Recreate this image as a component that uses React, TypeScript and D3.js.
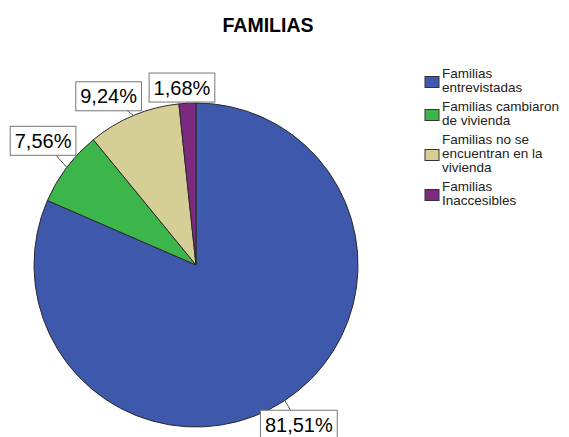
import React from "react";
import * as d3 from "d3";

const categories = [
  "Familias entrevistadas",
  "Familias cambiaron de vivienda",
  "Familias no se encuentran en la vivienda",
  "Familias Inaccesibles",
];
const legendLines = [
  ["Familias", "entrevistadas"],
  ["Familias cambiaron", "de vivienda"],
  ["Familias no se", "encuentran en la", "vivienda"],
  ["Familias", "Inaccesibles"],
];
const values = [81.51, 7.56, 9.24, 1.68];
const labels = ["81,51%", "7,56%", "9,24%", "1,68%"];
const colors = ["#3e58ab", "#3cb54b", "#d5cf96", "#7b2a7f"];

const W = 569;
const H = 437;
const cx = 196;
const cy = 265;
const R = 162;
const labelR = [190, 197, 190, 178];
const labelNudgeDeg = [0.5, 2, -4.7, -1.5];
const font = "'Liberation Sans', Arial, sans-serif";

function textWidth(s: string, size: number) {
  const c = document.createElement("canvas").getContext("2d")!;
  c.font = `${size}px ${font}`;
  return c.measureText(s).width;
}

export default function App() {
  const pie = d3.pie<number>().sort(null).value((d) => d);
  const arcs = pie(values);
  const arc = d3.arc<d3.PieArcDatum<number>>().innerRadius(0).outerRadius(R);

  const pt = (a: number, r: number) => [cx + r * Math.sin(a), cy - r * Math.cos(a)];

  let ly = 78;
  const legendItems = legendLines.map((lines, i) => {
    const top = ly;
    ly += lines.length * 14 + 5;
    return { lines, top, i };
  });

  return (
    <svg
      width={W}
      height={H}
      style={{ position: "absolute", left: 0, top: 0, background: "#fff" }}
      fontFamily={font}
    >
      <rect width={W} height={H} fill="#fff" />
      <text x={268} y={32} textAnchor="middle" fontSize={19.5} fontWeight="bold" fill="#000">
        FAMILIAS
      </text>
      <g transform={`translate(${cx},${cy})`}>
        {arcs.map((a, i) => (
          <path key={i} d={arc(a) || ""} fill={colors[i]} stroke="#2a2a2a" strokeWidth={1} />
        ))}
      </g>
      {arcs.map((a, i) => {
        const mid = (a.startAngle + a.endAngle) / 2;
        const [ex, ey] = pt(mid, R);
        const [lx, lyy] = pt(mid + (labelNudgeDeg[i] * Math.PI) / 180, labelR[i]);
        const tw = textWidth(labels[i], 20);
        const bw = tw + 9;
        const bh = 29;
        return (
          <g key={i}>
            <line x1={ex} y1={ey} x2={lx} y2={lyy} stroke="#555" strokeWidth={1} />
            <rect
              x={lx - bw / 2}
              y={lyy - bh / 2}
              width={bw}
              height={bh}
              fill="#fff"
              stroke="#777"
              strokeWidth={1}
            />
            <text x={lx} y={lyy + 7} textAnchor="middle" fontSize={20} fill="#000">
              {labels[i]}
            </text>
          </g>
        );
      })}
      {legendItems.map(({ lines, top, i }) => {
        const y0 = top - 10;
        const h = lines.length * 14;
        const mid = y0 + h / 2;
        return (
          <g key={i}>
            <rect x={425} y={mid - 5.5} width={14} height={11} fill={colors[i]} stroke="#333" strokeWidth={1} />
            {lines.map((l, j) => (
              <text key={j} x={442} y={top + j * 14} fontSize={13.5} fill="#222">
                {l}
              </text>
            ))}
          </g>
        );
      })}
    </svg>
  );
}
